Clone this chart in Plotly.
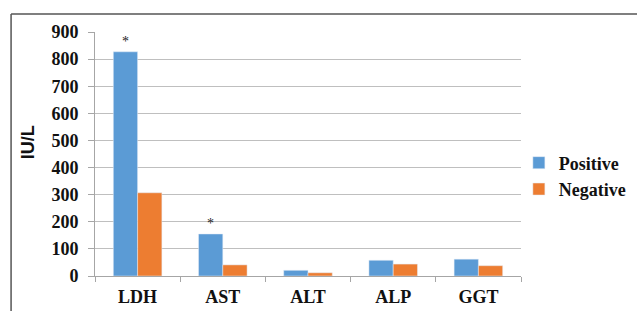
import plotly.graph_objects as go

categories = ["LDH", "AST", "ALT", "ALP", "GGT"]
positive = [827, 155, 21, 58, 62]
negative = [307, 41, 12, 44, 38]
significant = ["*", "*", "", "", ""]

BLUE = "#5b9bd5"
ORANGE = "#ed7d31"
SERIF = "Liberation Serif, Times New Roman, serif"

fig = go.Figure()
fig.add_trace(go.Bar(x=categories, y=positive, name="<b>Positive</b>", marker_color=BLUE))
fig.add_trace(go.Bar(x=categories, y=negative, name="<b>Negative</b>", marker_color=ORANGE))

annotations = []
for c, v, s in zip(categories, positive, significant):
    if s:
        annotations.append(dict(x=c, y=v, text=s, showarrow=False, xshift=-12,
                                yanchor="bottom", yshift=1,
                                font=dict(family=SERIF, size=14, color="#222")))
annotations.append(dict(x=-0.157, y=0.549, xref="paper", yref="paper", text="<b>IU/L</b>",
                        xanchor="center", yanchor="middle",
                        textangle=-90, showarrow=False,
                        font=dict(family="Liberation Sans, Arial, sans-serif", size=18, color="#111")))

fig.update_layout(
    width=637, height=311,
    margin=dict(l=95, r=116, t=32, b=35, autoexpand=False),
    paper_bgcolor="white", plot_bgcolor="white",
    barmode="group", bargap=0.43, bargroupgap=0,
    showlegend=True,
    legend=dict(x=0.995, y=0.41, xanchor="left", yanchor="middle",
                font=dict(family=SERIF, size=18, color="#111"),
                itemwidth=30, tracegroupgap=0, bgcolor="rgba(0,0,0,0)"),
    annotations=annotations,
    shapes=[
        dict(type="line", xref="paper", yref="paper", x0=-0.197, x1=-0.197, y0=-0.3, y1=1.0738,
             line=dict(color="#555", width=1.5)),
        dict(type="line", xref="paper", yref="paper", x0=-0.197, x1=1.4, y0=1.0738, y1=1.0738,
             line=dict(color="#555", width=1.5)),
    ],
    xaxis=dict(showline=True, linecolor="#a6a6a6", linewidth=1, ticks="outside",
               tickson="boundaries", ticklen=5, tickcolor="#a6a6a6", ticklabelstandoff=4,
               tickfont=dict(family=SERIF, size=18, color="#111"),
               tickprefix="<b>", ticksuffix="</b>", automargin=False),
    yaxis=dict(range=[0, 900], dtick=100, showgrid=True, gridcolor="#bfbfbf", gridwidth=1,
               showline=True, linecolor="#a6a6a6", ticks="outside", ticklen=6,
               tickcolor="#a6a6a6", zeroline=False, ticklabelstandoff=6,
               tickfont=dict(family=SERIF, size=18, color="#111"),
               tickprefix="<b>", ticksuffix="</b>", automargin=False),
)

fig.write_html("out.html", config={"displayModeBar": False},
               post_script="document.body.style.margin='0';")
